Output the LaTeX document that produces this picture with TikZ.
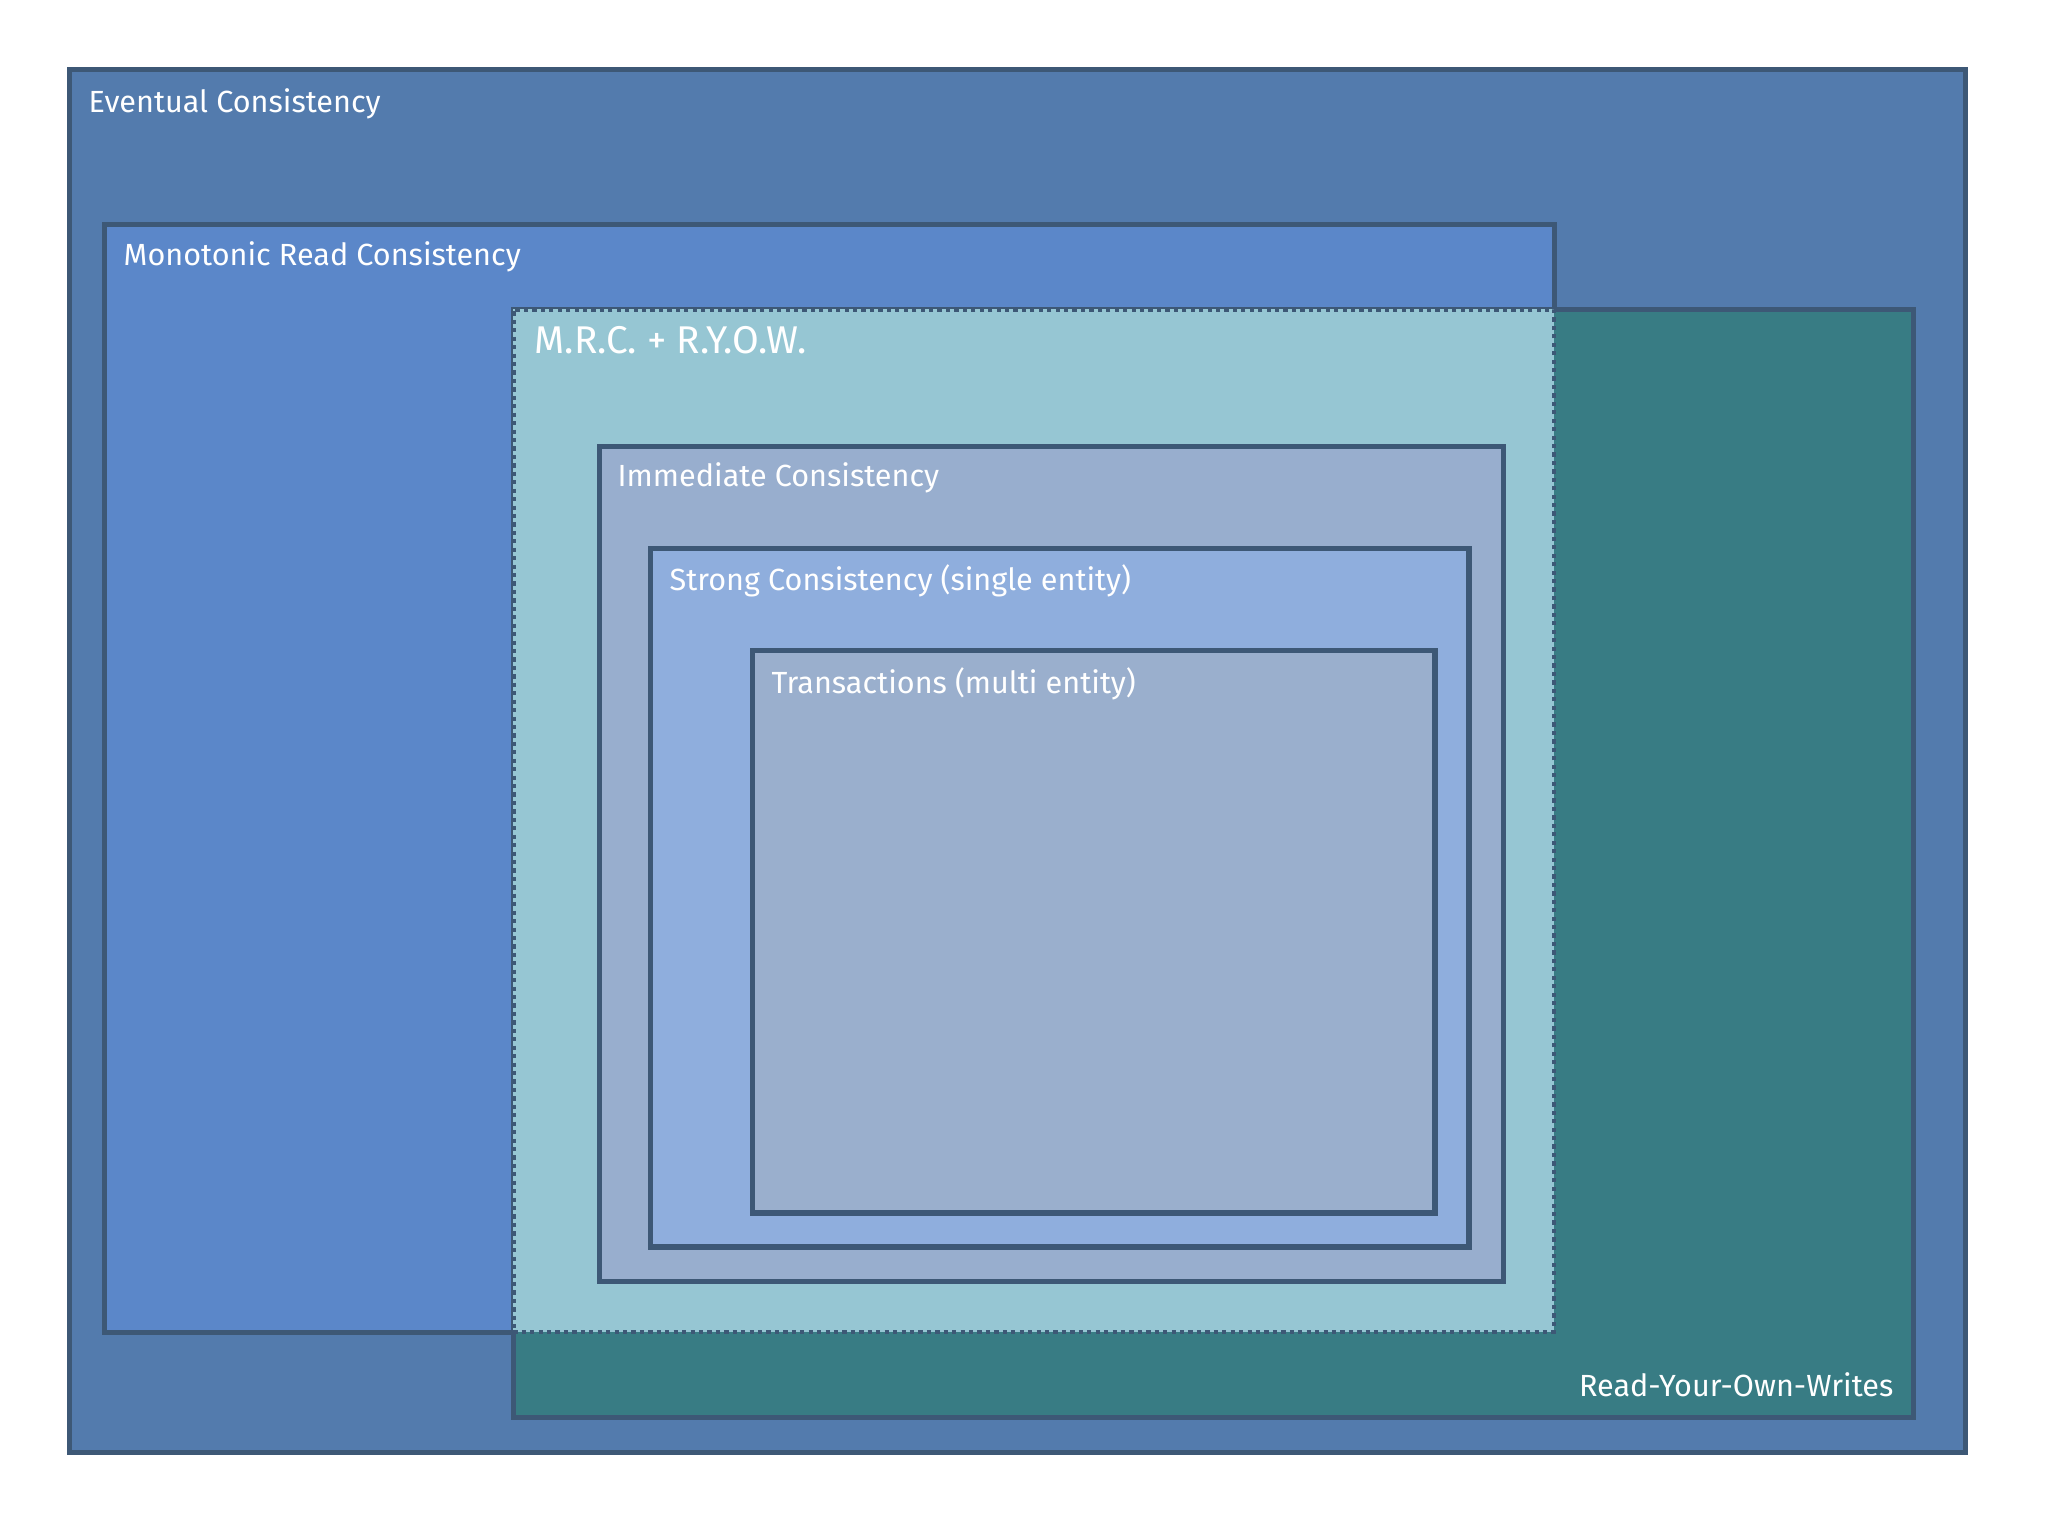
\documentclass[tikz,border=0pt]{standalone}
\usepackage{fontspec}
\setmainfont{Fira Sans}
\usepackage{xcolor}
\usetikzlibrary{positioning}
\definecolor{edge}{RGB}{61,88,118}
\definecolor{evBlue}{RGB}{83,123,173}
\definecolor{mrBlue}{RGB}{91,135,201}
\definecolor{ryTeal}{RGB}{56,124,132}
\definecolor{mixCyan}{RGB}{150,198,211}
\definecolor{imGray}{RGB}{152,174,206}
\definecolor{stBlue}{RGB}{143,174,221}
\definecolor{trGray}{RGB}{154,175,205}

\begin{document}
\begin{tikzpicture}
  [
    x=0.01cm, y=-0.01cm,
    Box/.style={rectangle, draw=edge, line width=1.5pt, anchor=north west, inner sep=0pt},
    Mix/.style={rectangle, draw=edge, line width=1.3pt, dash pattern=on 1.2pt off 1.2pt, anchor=north west, inner sep=0pt},
    Lbl/.style={text=white, inner sep=0pt, font=\fontsize{8.7}{10}\selectfont},
    Big/.style={text=white, inner sep=0pt, font=\fontsize{11}{13}\selectfont}
  ]
  \useasboundingbox (0,0) rectangle (2048,1536);
  % Nodes
  \node[Box, fill=evBlue, minimum width=18.95cm, minimum height=13.82cm] (ev) at (67,67) {};
  \node[Box, fill=mrBlue, minimum width=14.49cm, minimum height=11.07cm] (mr) at (102,222) {};
  \node[Box, fill=ryTeal, minimum width=13.99cm, minimum height=11.07cm] (ry) at (511,307) {};
  \node[Mix, fill=mixCyan, minimum width=10.40cm, minimum height=10.22cm] (mix) at (511,307) {};
  \node[Box, fill=imGray, minimum width=9.03cm, minimum height=8.34cm] (im) at (597,444) {};
  \node[Box, fill=stBlue, minimum width=8.18cm, minimum height=6.98cm] (st) at (648,546) {};
  \node[Box, fill=trGray, minimum width=6.82cm, minimum height=5.62cm] (tr) at (750,648) {};
  % Labels
  \node[Lbl, below right=0.21cm and 0.21cm of ev.north west] (evl) {Eventual Consistency};
  \node[Lbl, below right=0.19cm and 0.21cm of mr.north west] (mrl) {Monotonic Read Consistency};
  \node[Big, below right=0.19cm and 0.23cm of mix.north west] (mixl) {M.R.C. + R.Y.O.W.};
  \node[Lbl, below right=0.18cm and 0.20cm of im.north west] (iml) {Immediate Consistency};
  \node[Lbl, below right=0.18cm and 0.21cm of st.north west] (stl) {Strong Consistency (single entity)};
  \node[Lbl, below right=0.19cm and 0.21cm of tr.north west] (trl) {Transactions (multi entity)};
  \node[Lbl, above left=0.22cm and 0.22cm of ry.south east] (ryl) {Read-Your-Own-Writes};
\end{tikzpicture}
\end{document}
